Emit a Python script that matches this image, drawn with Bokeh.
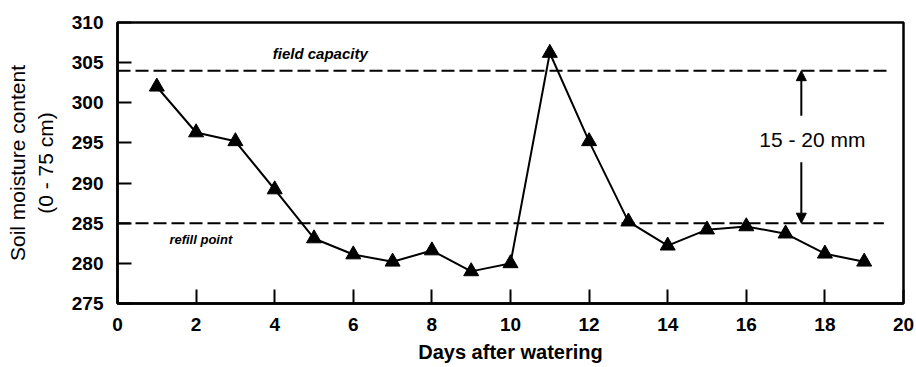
from bokeh.plotting import figure
from bokeh.models import Arrow, NormalHead, Label, FixedTicker
from bokeh.embed import file_html
from bokeh.resources import INLINE

# Soil moisture over the days after watering
days = [1, 2, 3, 4, 5, 6, 7, 8, 9, 10, 11, 12, 13, 14, 15, 16, 17, 18, 19]
moisture = [302, 296.3, 295.2, 289.2, 283.1, 281.1, 280.2, 281.6, 279.0, 280.0,
            306.2, 295.2, 285.2, 282.2, 284.2, 284.6, 283.7, 281.2, 280.2]

field_capacity = 304
refill_point = 285
x_ticks = [0, 2, 4, 6, 8, 10, 12, 14, 16, 18, 20]
y_ticks = [275, 280, 285, 290, 295, 300, 305, 310]

FONT = "Liberation Sans"

p = figure(width=916, height=367, x_range=(0, 20), y_range=(275, 310),
           output_backend="svg", toolbar_location=None,
           min_border_left=117, min_border_right=13,
           min_border_top=22, min_border_bottom=64)
p.grid.visible = False
p.outline_line_color = "black"
p.outline_line_width = 2.5
p.background_fill_color = "white"
p.border_fill_color = "white"

p.xaxis.ticker = FixedTicker(ticks=x_ticks)
p.yaxis.ticker = FixedTicker(ticks=y_ticks)
for ax in (p.xaxis, p.yaxis):
    ax.axis_line_width = 2.5
    ax.axis_line_color = "black"
    ax.major_tick_in = 14
    ax.major_tick_out = 0
    ax.major_tick_line_width = 2
    ax.major_tick_line_color = "black"
    ax.minor_tick_line_color = None
    ax.major_label_text_font = FONT
    ax.major_label_text_font_style = "bold"
    ax.major_label_text_font_size = "19px"
    ax.major_label_text_color = "black"
    ax.axis_label_text_font = FONT
    ax.axis_label_text_color = "black"

p.yaxis.major_label_standoff = 14
p.xaxis.major_label_standoff = 14

p.xaxis.axis_label = "Days after watering"
p.xaxis.axis_label_text_font_style = "bold"
p.xaxis.axis_label_text_font_size = "20px"
p.xaxis.axis_label_standoff = 7

p.yaxis.axis_label = "Soil moisture content\n(0 - 75 cm)"
p.yaxis.axis_label_text_font_style = "normal"
p.yaxis.axis_label_text_font_size = "21px"
p.yaxis.axis_label_standoff = 12

# reference levels
p.line([0, 19.6], [field_capacity, field_capacity], line_color="black",
       line_width=2, line_dash="13 5")
p.line([0, 19.5], [refill_point, refill_point], line_color="black",
       line_width=2, line_dash="13 5")

p.add_layout(Label(x=3.95, y=field_capacity + 1.1, text="field capacity",
                   text_font=FONT, text_font_style="bold italic",
                   text_font_size="15px", text_baseline="bottom",
                   text_color="black"))
p.add_layout(Label(x=1.32, y=refill_point - 1.1, text="refill point",
                   text_font=FONT, text_font_style="bold italic",
                   text_font_size="13px", text_baseline="top",
                   text_color="black"))

# measured series
p.line(days, moisture, line_color="black", line_width=2)
p.scatter(days, moisture, marker="triangle", size=15,
          fill_color="black", line_color="black")

# readily available water span
span_x = 17.4
p.add_layout(Arrow(x_start=span_x, y_start=298.4, x_end=span_x, y_end=field_capacity,
                   line_width=2, line_color="black",
                   end=NormalHead(size=10, fill_color="black", line_color="black")))
p.add_layout(Arrow(x_start=span_x, y_start=292.6, x_end=span_x, y_end=refill_point,
                   line_width=2, line_color="black",
                   end=NormalHead(size=10, fill_color="black", line_color="black")))
p.add_layout(Label(x=17.68, y=295.4, text="15 - 20 mm", text_font=FONT,
                   text_font_size="21px", text_align="center",
                   text_baseline="middle", text_color="black"))

open("out.html", "w").write(file_html(p, INLINE))
